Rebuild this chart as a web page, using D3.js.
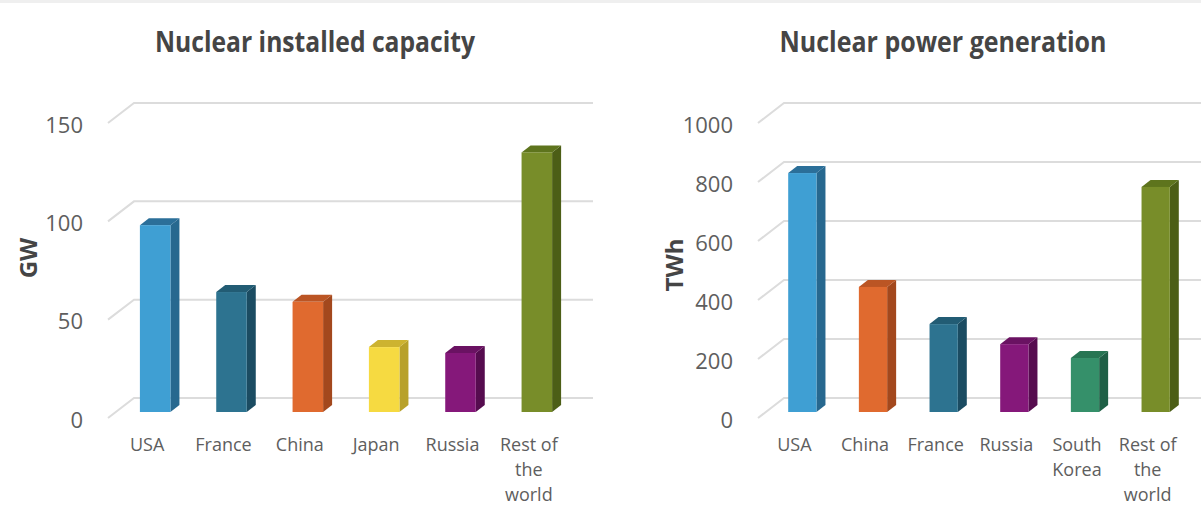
<!DOCTYPE html>
<html>
<head>
<meta charset="utf-8">
<script src="https://cdn.jsdelivr.net/npm/d3@7"></script>
<style>
	body { margin: 0; background: #fff; }
	svg { display: block; font-family: "Open Sans", sans-serif; }
</style>
</head>
<body>
<script>
// Data
const capacityCountries = ["USA", "France", "China", "Japan", "Russia", "Rest of the world"];
const capacityValues = [95, 61, 56, 33, 30, 132];
const capacityTicks = [0, 50, 100, 150];

const generationCountries = ["USA", "China", "France", "Russia", "South Korea", "Rest of the world"];
const generationValues = [810, 424, 298, 230, 183, 763];
const generationTicks = [0, 200, 400, 600, 800, 1000];

// front, side, top
const countryColors = {
	"USA": ["#3f9fd3", "#27688f", "#2b6f99"],
	"France": ["#2d7390", "#1b4c62", "#225c74"],
	"China": ["#e06a2f", "#a3481d", "#bb5524"],
	"Japan": ["#f6da41", "#b8a12a", "#cdb330"],
	"Russia": ["#85187a", "#560c4f", "#6a1262"],
	"South Korea": ["#35906a", "#1f6046", "#277553"],
	"Rest of the world": ["#788d29", "#4c5e16", "#5e741d"]
};

const width = 1201, height = 514;
const depthX = 9, depthY = -7;

const svg = d3.select("body")
	.append("svg")
	.attr("width", width)
	.attr("height", height);

// faint strip along the top edge
svg.append("rect")
	.attr("width", width)
	.attr("height", 3)
	.attr("fill", "#efefef");

/**
 * Draws one pseudo-3D bar chart
 */
function drawChart(opts) {
	let g = svg.append("g");

	let y = d3.scaleLinear()
		.domain([0, d3.max(opts.ticks)])
		.range([412, 117]);

	let x = d3.scaleBand()
		.domain(opts.categories)
		.range([opts.x0, opts.x1])
		.paddingInner(0.6)
		.paddingOuter(0.3);

	// back wall grid lines and the floor diagonals
	let grid = g.append("g")
		.attr("stroke", "#dcdcdc")
		.attr("stroke-width", 2)
		.attr("fill", "none");

	for (let t of opts.ticks) {
		grid.append("path")
			.attr("d", `M${opts.x0 - 9},${y(t) + 6}L${opts.x0 + 17},${y(t) - 14}H${opts.gridEnd}`);
	}

	// tick labels
	let axis = g.append("g")
		.attr("transform", `translate(${opts.x0 - 34},8)`)
		.call(d3.axisLeft(y).tickValues(opts.ticks).tickFormat(d3.format("d")).tickSize(0).tickPadding(0));
	axis.select(".domain").remove();
	axis.selectAll("text")
		.attr("fill", "#5e5e5e")
		.style("font-size", "22px")
		.style("font-family", "'Open Sans', sans-serif");

	// bars
	let bw = x.bandwidth();
	let bars = g.selectAll(".bar")
		.data(opts.categories.map((c, i) => ({ name: c, value: opts.values[i] })))
		.enter()
		.append("g")
		.attr("class", "bar");

	bars.append("path")
		.attr("fill", d => countryColors[d.name][1])
		.attr("d", d => {
			let x1 = x(d.name) + bw, yt = y(d.value), yb = y(0);
			return `M${x1},${yt}L${x1 + depthX},${yt + depthY}V${yb + depthY}L${x1},${yb}Z`;
		});

	bars.append("path")
		.attr("fill", d => countryColors[d.name][2])
		.attr("d", d => {
			let x0 = x(d.name), yt = y(d.value);
			return `M${x0},${yt}L${x0 + depthX},${yt + depthY}H${x0 + bw + depthX}L${x0 + bw},${yt}Z`;
		});

	bars.append("rect")
		.attr("fill", d => countryColors[d.name][0])
		.attr("x", d => x(d.name))
		.attr("y", d => y(d.value))
		.attr("width", bw)
		.attr("height", d => y(0) - y(d.value));

	// category labels, wrapped to fit the band
	let labels = g.selectAll(".cat")
		.data(opts.categories)
		.enter()
		.append("text")
		.attr("class", "cat")
		.attr("text-anchor", "middle")
		.attr("fill", "#5e5e5e")
		.style("font-size", "18px");

	labels.each(function(d) {
		let text = d3.select(this);
		let cx = x(d) + bw / 2 - 8;
		let words = d.split(" ");
		let lines = [];
		let line = [];
		let probe = text.append("tspan");
		for (let w of words) {
			line.push(w);
			probe.text(line.join(" "));
			if (line.length > 1 && probe.node().getComputedTextLength() > x.step() - 6) {
				line.pop();
				lines.push(line.join(" "));
				line = [w];
			}
		}
		lines.push(line.join(" "));
		probe.remove();
		lines.forEach((l, i) => {
			text.append("tspan")
				.attr("x", cx)
				.attr("y", 451 + i * 25)
				.text(l);
		});
	});

	// title
	g.append("text")
		.attr("x", opts.titleX)
		.attr("y", 52)
		.attr("text-anchor", "middle")
		.attr("fill", "#454545")
		.attr("textLength", opts.titleWidth)
		.attr("lengthAdjust", "spacingAndGlyphs")
		.style("font-size", "29px")
		.style("font-weight", "700")
		.text(opts.title);

	// unit label
	g.append("text")
		.attr("transform", `translate(${opts.unitX},${opts.unitY}) rotate(-90)`)
		.attr("text-anchor", "middle")
		.attr("dy", "0.35em")
		.attr("fill", "#454545")
		.style("font-size", "24px")
		.style("font-weight", "700")
		.text(opts.unit);
}

drawChart({
	title: "Nuclear installed capacity",
	titleX: 315,
	titleWidth: 320,
	unit: "GW",
	unitX: 29,
	unitY: 258,
	categories: capacityCountries,
	values: capacityValues,
	ticks: capacityTicks,
	x0: 117,
	x1: 575,
	gridEnd: 593
});

drawChart({
	title: "Nuclear power generation",
	titleX: 943,
	titleWidth: 327,
	unit: "TWh",
	unitX: 675,
	unitY: 265,
	categories: generationCountries,
	values: generationValues,
	ticks: generationTicks,
	x0: 767,
	x1: 1191,
	gridEnd: 1201
});
</script>
</body>
</html>
